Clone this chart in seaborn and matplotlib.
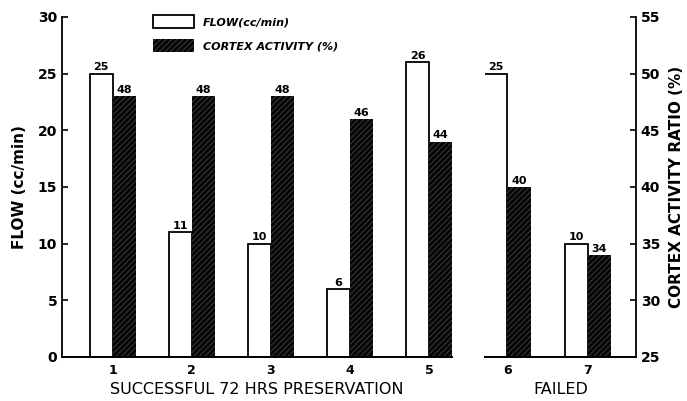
import pandas as pd
import seaborn as sns
from matplotlib import pyplot as plt
from matplotlib.patches import Patch

# values
groups = ["1", "2", "3", "4", "5", "6", "7"]
outcome = ["success"] * 5 + ["failed"] * 2
flow = [25, 11, 10, 6, 26, 25, 10]
cortex = [48, 48, 48, 46, 44, 40, 34]

flow_ticks = [0, 5, 10, 15, 20, 25, 30]
cortex_ticks = [25, 30, 35, 40, 45, 50, 55]

series = ["FLOW(cc/min)", "CORTEX ACTIVITY (%)"]
colors = {series[0]: "white", series[1]: "#050505"}
hatch_col = "#3c3c3c"


def make_frame(mask):
    rows = []
    for g, o, f, c in zip(groups, outcome, flow, cortex):
        if o == mask:
            rows.append({"group": g, "series": series[0], "value": f})
            rows.append({"group": g, "series": series[1], "value": c})
    return pd.DataFrame(rows)


def draw_panel(ax, df, xlim, show_left, show_right, xlabel):
    tw = ax.twinx()
    sns.barplot(data=df[df.series == series[0]], x="group", y="value",
                hue="series", hue_order=series, palette=colors, dodge=True,
                width=0.58, saturation=1, edgecolor="black", linewidth=1.3,
                legend=False, ax=ax)
    sns.barplot(data=df[df.series == series[1]], x="group", y="value",
                hue="series", hue_order=series, palette=colors, dodge=True,
                width=0.58, saturation=1, edgecolor=hatch_col, linewidth=0,
                hatch="//////", legend=False, ax=tw)

    for a in (ax, tw):
        for c in a.containers:
            a.bar_label(c, fmt="%d", fontsize=8, padding=1, fontweight="bold")

    ax.set_ylim(0, 30)
    tw.set_ylim(25, 55)
    ax.set_xlim(*xlim)
    ax.set_yticks(flow_ticks)
    tw.set_yticks(cortex_ticks)

    for a in (ax, tw):
        a.spines["top"].set_visible(False)
        a.tick_params(direction="in", length=4, width=1.2, labelsize=10)
        a.spines["bottom"].set_linewidth(1.3)
    ax.spines["right"].set_visible(False)
    tw.spines["left"].set_visible(False)
    tw.spines["right"].set_linewidth(1.3)
    ax.spines["left"].set_linewidth(1.3)
    tw.spines["right"].set_visible(show_right)
    ax.spines["left"].set_visible(show_left)

    ax.tick_params(axis="x", length=0, labelsize=9, pad=5)
    if show_left:
        ax.set_ylabel("FLOW (cc/min)", fontsize=11, fontweight="bold", labelpad=8)
        for t in ax.get_yticklabels():
            t.set_fontweight("bold")
    else:
        ax.set_ylabel("")
        ax.tick_params(axis="y", left=False, labelleft=False)
    if show_right:
        tw.set_ylabel("CORTEX ACTIVITY RATIO (%)", fontsize=11,
                      fontweight="bold", labelpad=6)
        for t in tw.get_yticklabels():
            t.set_fontweight("bold")
    else:
        tw.set_ylabel("")
        tw.tick_params(axis="y", right=False, labelright=False)
    for t in ax.get_xticklabels():
        t.set_fontweight("bold")
    ax.set_xlabel(xlabel, fontsize=11.5, labelpad=4)
    return tw


def main():
    sns.set_style("ticks", {"text.color": "black", "axes.labelcolor": "black",
                            "xtick.color": "black", "ytick.color": "black",
                            "axes.edgecolor": "black"})
    plt.rcParams["font.family"] = ["DejaVu Sans"]
    plt.rcParams["hatch.linewidth"] = 0.7

    fig = plt.figure(figsize=(6.87, 4.01), dpi=100)
    ax1 = fig.add_axes([62 / 687, 44 / 401, 390 / 687, 340 / 401])
    ax2 = fig.add_axes([485 / 687, 44 / 401, 151 / 687, 340 / 401])

    draw_panel(ax1, make_frame("success"), (-0.64, 4.29), True, False,
               "SUCCESSFUL 72 HRS PRESERVATION")
    draw_panel(ax2, make_frame("failed"), (-0.28, 1.6), False, True,
               "FAILED")

    handles = [
        Patch(facecolor="white", edgecolor="black", linewidth=1.3),
        Patch(facecolor=colors[series[1]], edgecolor=hatch_col, linewidth=0,
              hatch="//////"),
    ]
    leg = fig.legend(handles, series, loc="upper left",
                     bbox_to_anchor=(153 / 687, 1 - 15 / 401),
                     frameon=False, fontsize=8, handlelength=3.7,
                     handleheight=1.45, labelspacing=0.95, handletextpad=0.8,
                     borderpad=0, borderaxespad=0)
    for t in leg.get_texts():
        t.set_fontstyle("italic")
        t.set_fontweight("bold")

    plt.savefig("out.png", dpi=100)
    plt.close()


if __name__ == "__main__":
    main()
